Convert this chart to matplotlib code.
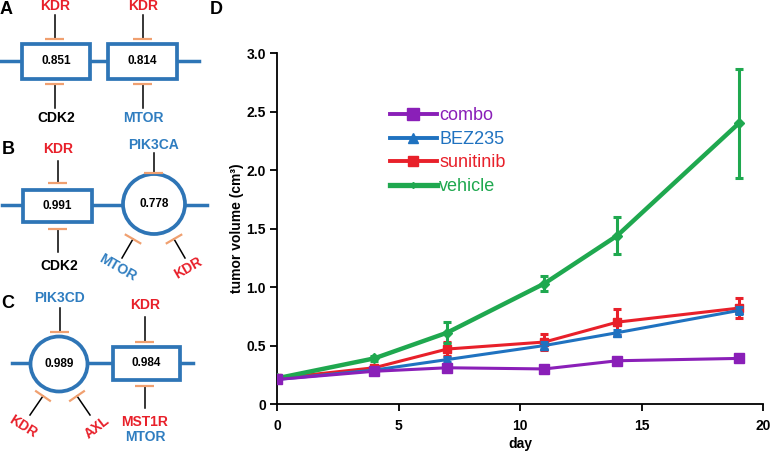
import numpy as np
import matplotlib
matplotlib.use("Agg")
import matplotlib.pyplot as plt
from matplotlib.patches import Rectangle, Ellipse
from matplotlib.lines import Line2D

plt.rcParams['font.family'] = ['Liberation Sans', 'DejaVu Sans']

# tumour growth data (panel D)
DAYS = [0, 4, 7, 11, 14, 19]
COMBO = [0.21, 0.28, 0.31, 0.30, 0.37, 0.39]
COMBO_ERR = [0.01, 0.01, 0.02, 0.02, 0.02, 0.02]
BEZ235 = [0.21, 0.29, 0.38, 0.50, 0.61, 0.80]
BEZ235_ERR = [0.01, 0.01, 0.02, 0.03, 0.02, 0.03]
SUNITINIB = [0.22, 0.31, 0.47, 0.53, 0.70, 0.82]
SUNITINIB_ERR = [0.01, 0.02, 0.06, 0.07, 0.11, 0.085]
VEHICLE = [0.22, 0.39, 0.61, 1.03, 1.44, 2.40]
VEHICLE_ERR = [0.01, 0.02, 0.09, 0.065, 0.16, 0.465]
LEGEND_ORDER = ["combo", "BEZ235", "sunitinib", "vehicle"]

# network scores (panels A-C)
SCORES_A = ["0.851", "0.814"]
SCORES_B = ["0.991", "0.778"]
SCORES_C = ["0.989", "0.984"]

BLUE = "#2E75B6"
TBLUE = "#2F7DC0"
RED = "#E8202A"
ORANGE = "#F0A070"
PURPLE = "#8A1FB8"
GREEN = "#1FA84F"
LBLUE = "#1F72C0"


def tee(ax, x0, y0, x1, y1):
    # inhibitor arrow: black stem ending in an orange bar
    ax.plot([x0, x1], [y0, y1], color="black", lw=1.1, zorder=3)
    d = np.array([x1 - x0, y1 - y0], float)
    d /= np.hypot(*d)
    p = np.array([-d[1], d[0]]) * 9.5
    ax.plot([x1 - p[0], x1 + p[0]], [y1 - p[1], y1 + p[1]],
            color=ORANGE, lw=1.6, zorder=3, solid_capstyle="butt")


def box(ax, x0, y0, x1, y1, txt):
    ax.add_patch(Rectangle((x0, y0), x1 - x0, y1 - y0, fc="white",
                           ec=BLUE, lw=2.7, zorder=2))
    ax.text((x0 + x1) / 2, (y0 + y1) / 2, txt, ha="center", va="center",
            fontsize=8.5, fontweight="bold", zorder=4)


def oval(ax, cx, cy, rx, ry, txt):
    ax.add_patch(Ellipse((cx, cy), 2 * rx, 2 * ry, fc="white",
                         ec=BLUE, lw=2.7, zorder=2))
    ax.text(cx, cy, txt, ha="center", va="center",
            fontsize=8.5, fontweight="bold", zorder=4)


def lab(ax, x, y, txt, color, rot=0):
    ax.text(x, y, txt, ha="center", va="center", fontsize=10,
            fontweight="bold", color=color, rotation=rot)


def main():
    fig = plt.figure(figsize=(7.78, 4.55), dpi=100)

    # schematic axes in pixel units
    dax = fig.add_axes([0, 0, 1, 1], zorder=0)
    dax.set_xlim(0, 778)
    dax.set_ylim(455, 0)
    dax.axis("off")

    for t, x, y in [("A", 6, 9), ("B", 8, 149), ("C", 8, 304), ("D", 216, 9)]:
        dax.text(x, y, t, ha="center", va="center", fontsize=13,
                 fontweight="bold")

    # panel A
    dax.plot([1, 199], [61, 61], color=BLUE, lw=2.5, zorder=1)
    box(dax, 22, 44, 90, 79, SCORES_A[0])
    box(dax, 108, 44, 177, 79, SCORES_A[1])
    lab(dax, 55, 6, "KDR", RED)
    tee(dax, 55, 15, 55, 39)
    tee(dax, 55, 108, 55, 84)
    lab(dax, 56, 118, "CDK2", "black")
    lab(dax, 143, 6, "KDR", RED)
    tee(dax, 143, 15, 143, 39)
    tee(dax, 143, 108, 143, 84)
    lab(dax, 143, 118, "MTOR", TBLUE)

    # panel B
    dax.plot([2, 207], [205, 205], color=BLUE, lw=2.5, zorder=1)
    box(dax, 23, 190, 92, 222, SCORES_B[0])
    oval(dax, 154, 204, 31, 30, SCORES_B[1])
    lab(dax, 58, 149, "KDR", RED)
    tee(dax, 58, 161, 58, 183)
    tee(dax, 58, 252, 58, 229)
    lab(dax, 59, 266, "CDK2", "black")
    lab(dax, 154, 145, "PIK3CA", TBLUE)
    tee(dax, 154, 153, 154, 173)
    tee(dax, 122, 258, 133, 239)
    tee(dax, 185, 258, 174, 239)
    lab(dax, 118, 268, "MTOR", TBLUE, -30)
    lab(dax, 188, 268, "KDR", RED, 30)

    # panel C
    dax.plot([12, 193], [363, 363], color=BLUE, lw=2.5, zorder=1)
    oval(dax, 59, 364, 28.5, 27.5, SCORES_C[0])
    box(dax, 113, 347, 180, 380, SCORES_C[1])
    lab(dax, 60, 298, "PIK3CD", TBLUE)
    tee(dax, 60, 308, 60, 332)
    tee(dax, 30, 415, 43, 396)
    tee(dax, 90, 415, 77, 396)
    lab(dax, 23, 427, "KDR", RED, -32)
    lab(dax, 97, 427, "AXL", RED, 38)
    lab(dax, 145, 305, "KDR", RED)
    tee(dax, 145, 317, 145, 342)
    tee(dax, 145, 408, 145, 386)
    lab(dax, 145, 422, "MST1R", RED)
    lab(dax, 145, 437, "MTOR", TBLUE)

    # panel D
    ax = fig.add_axes([0.356, 0.112, 0.625, 0.7715], zorder=2)
    ax.patch.set_alpha(0)
    series = {
        "sunitinib": (SUNITINIB, SUNITINIB_ERR, RED, "s", 6, 2.2, 3),
        "BEZ235": (BEZ235, BEZ235_ERR, LBLUE, "^", 6, 2.2, 4),
        "vehicle": (VEHICLE, VEHICLE_ERR, GREEN, "D", 5, 3.2, 5),
        "combo": (COMBO, COMBO_ERR, PURPLE, "s", 7, 2.2, 6),
    }
    for name, (y, err, c, m, ms, lw, z) in series.items():
        ax.errorbar(DAYS, y, yerr=err, color=c, marker=m, ms=ms, lw=lw,
                    elinewidth=2.2, capsize=3, capthick=2.2, zorder=z)

    handles = []
    for name in LEGEND_ORDER:
        y, err, c, m, ms, lw, z = series[name]
        handles.append(Line2D([], [], color=c, marker=m, lw=lw + 0.6,
                              ms=3 if name == "vehicle" else ms + 1))
    leg = ax.legend(handles, LEGEND_ORDER, frameon=False,
                    loc="upper left", bbox_to_anchor=(0.232, 0.845),
                    fontsize=13, handlelength=2.6, handletextpad=0.15,
                    labelspacing=0.36, borderaxespad=0, borderpad=0)
    for txt, name in zip(leg.get_texts(), LEGEND_ORDER):
        txt.set_color(series[name][2])

    ax.set_xlim(0, 20)
    ax.set_ylim(0, 3)
    ax.set_xticks([0, 5, 10, 15, 20])
    ax.set_yticks([0, 0.5, 1.0, 1.5, 2.0, 2.5, 3.0])
    ax.set_yticklabels(["0", "0.5", "1.0", "1.5", "2.0", "2.5", "3.0"])
    for s in ["top", "right"]:
        ax.spines[s].set_visible(False)
    for s in ["left", "bottom"]:
        ax.spines[s].set_linewidth(1.3)
    ax.tick_params(width=1.3, length=5, labelsize=10, pad=3)
    ax.tick_params(axis="x", pad=6)
    for t in ax.get_xticklabels() + ax.get_yticklabels():
        t.set_fontweight("bold")
    ax.set_xlabel("day", fontsize=10, fontweight="bold", labelpad=3)
    ax.set_ylabel("tumor volume (cm³)", fontsize=10, fontweight="bold",
                  labelpad=2)

    fig.savefig("out.png", dpi=100)


if __name__ == "__main__":
    main()
